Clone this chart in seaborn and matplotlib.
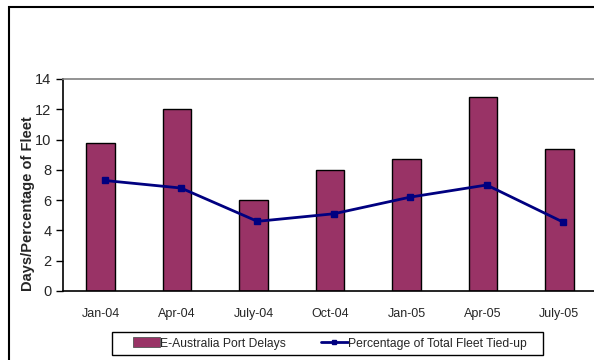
import numpy as np
import matplotlib
matplotlib.use("Agg")
import matplotlib.pyplot as plt
from matplotlib.patches import Rectangle
from matplotlib.lines import Line2D
from matplotlib.patches import Patch
import seaborn as sns

months = ["Jan-04", "Apr-04", "July-04", "Oct-04", "Jan-05", "Apr-05", "July-05"]
port_delays = [9.8, 12.0, 6.0, 8.0, 8.75, 12.8, 9.35]
fleet_tied_up = [7.3, 6.8, 4.6, 5.1, 6.2, 7.0, 4.55]
y_ticks = [0, 2, 4, 6, 8, 10, 12, 14]

sns.set_theme(style="white")
plt.rcParams["font.family"] = ["Liberation Sans", "DejaVu Sans"]

bar_color = "#993366"
line_color = "#000080"
W, H = 594, 360

fig = plt.figure(figsize=(W / 100, H / 100), dpi=100)
ax = fig.add_axes([62.5 / W, 69 / H, 535 / W, 212 / H])

sns.barplot(x=months, y=port_delays, color=bar_color, width=0.374,
            edgecolor="black", linewidth=1.0, saturation=1, ax=ax)

pos = np.arange(len(months)) + 0.05
ax.plot(pos, fleet_tied_up, color=line_color, linewidth=2.0,
        marker="s", markersize=5, markerfacecolor=line_color,
        markeredgecolor=line_color, zorder=5)

ax.set_xlim(-0.5, len(months) - 0.5)
ax.set_ylim(0, 14)
ax.set_yticks(y_ticks)
ax.set_yticklabels([str(v) for v in y_ticks], fontsize=10.5)
ax.set_xticks(range(len(months)))
ax.set_xticklabels(months, fontsize=9)
ax.set_xticks(np.arange(len(months) - 1) + 0.5, minor=True)
ax.tick_params(axis="x", which="major", length=0, pad=12)
ax.tick_params(axis="x", which="minor", direction="inout", length=9, width=1, color="black")
ax.tick_params(axis="y", which="major", direction="out", length=5, width=1, color="black", pad=3, left=True)
ax.set_xlabel("")
ax.set_ylabel("Days/Percentage of Fleet", fontsize=10.5, fontweight="bold")
ax.yaxis.set_label_coords((35 - 62.5) / 535, (291 - 204) / 212)

for side in ["left", "bottom"]:
    ax.spines[side].set_color("black")
    ax.spines[side].set_linewidth(1.2)
ax.spines["top"].set_color("#808080")
ax.spines["top"].set_linewidth(1.2)
ax.spines["right"].set_visible(False)

handles = [
    Patch(facecolor=bar_color, edgecolor="#555555", linewidth=0.6),
    Line2D([0], [0], color=line_color, linewidth=2.0, marker="s",
           markersize=3.5, markerfacecolor=line_color),
]
labels = ["E-Australia Port Delays", "Percentage of Total Fleet Tied-up"]
fig.legend(handles, labels, loc="center", bbox_to_anchor=(330 / W, 1 - 343.5 / H),
           ncol=2, fontsize=8.7, frameon=False, handlelength=2.2,
           handleheight=0.9, handletextpad=0.05, columnspacing=2.9,
           borderpad=0.0)

# legend frame
fig.patches.append(Rectangle((112 / W, 1 - 355 / H), (543 - 112) / W, 23 / H,
                             transform=fig.transFigure, fill=False,
                             edgecolor="black", linewidth=1.0))

# chart area border
fig.patches.append(Rectangle((9 / W, -0.2), 1.2, 1 - 7 / H + 0.2,
                             transform=fig.transFigure, fill=False,
                             edgecolor="black", linewidth=1.5))

fig.savefig("out.png", dpi=100)
